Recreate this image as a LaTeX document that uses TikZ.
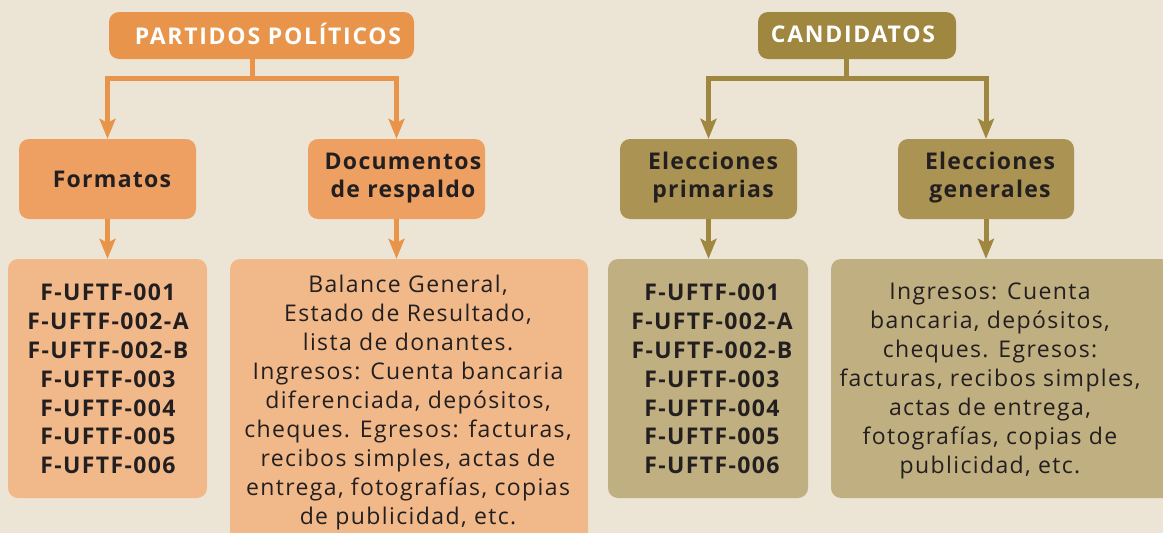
\documentclass[tikz,border=0pt]{standalone}
\usepackage{fontspec}
\setmainfont{Open Sans}
\usetikzlibrary{arrows.meta}
\definecolor{bg}{HTML}{ECE5D6}
\definecolor{orA}{HTML}{E8944A}
\definecolor{orB}{HTML}{EDA062}
\definecolor{orC}{HTML}{F1B98A}
\definecolor{olA}{HTML}{A0873F}
\definecolor{olB}{HTML}{AA9353}
\definecolor{olC}{HTML}{C0AF80}
\definecolor{ink}{HTML}{231F20}
\tikzset{
  box/.style={rounded corners=10pt, inner sep=0pt, draw=none},
  orline/.style={draw=orA, line width=5pt, line join=miter, -{Stealth[length=20pt,width=16pt,inset=4pt]}},
  olline/.style={draw=olA, line width=5pt, line join=miter, -{Stealth[length=20pt,width=16pt,inset=4pt]}},
  ttl/.style={text=white, font=\fontsize{23}{24}\bfseries\addfontfeatures{LetterSpace=7.5}\selectfont, inner sep=0pt},
  hd/.style={text=ink, font=\fontsize{23}{28}\bfseries\addfontfeatures{LetterSpace=5.5}\selectfont, align=center, inner sep=0pt},
  lst/.style={text=ink, font=\fontsize{23}{28.8}\bfseries\addfontfeatures{LetterSpace=6}\selectfont, align=center, inner sep=0pt},
  bd/.style={text=ink, font=\fontsize{23}{29}\addfontfeatures{LetterSpace=6}\selectfont, align=center, inner sep=0pt}
}
\begin{document}
\begin{tikzpicture}[x=1pt,y=-1pt]
\fill[bg] (0,0) rectangle (1163,533);
\useasboundingbox (0,0) rectangle (1163,533);
\clip (0,0) rectangle (1163,533);
% boxes
\node[box, fill=orA, minimum width=305pt, minimum height=47pt] (pp) at (261.5,35.5) {};
\node[box, fill=olA, minimum width=198pt, minimum height=47pt] (cand) at (857,35.5) {};
\node[box, fill=orB, minimum width=177pt, minimum height=80pt] (fmt) at (107.5,179) {};
\node[box, fill=orB, minimum width=177pt, minimum height=80pt] (doc) at (396.5,179) {};
\node[box, fill=olB, minimum width=177pt, minimum height=80pt] (ep) at (708.5,179) {};
\node[box, fill=olB, minimum width=176pt, minimum height=80pt] (eg) at (986,179) {};
\node[box, fill=orC, minimum width=199pt, minimum height=239pt] (l1) at (107.5,378.5) {};
\node[box, fill=orC, minimum width=358pt, minimum height=286pt] (l2) at (409,402) {};
\node[box, fill=olC, minimum width=200pt, minimum height=239pt] (l3) at (708,378.5) {};
\node[box, fill=olC, minimum width=344pt, minimum height=239pt] (l4) at (1003,378.5) {};
% connectors
\draw[orline] ([xshift=-9pt]pp.south) -- ++(0,19) -| (fmt.north);
\draw[orline] ([xshift=-9pt]pp.south) -- ++(0,19) -| (doc.north);
\draw[olline] ([xshift=-11pt]cand.south) -- ++(0,19) -| (ep.north);
\draw[olline] ([xshift=-11pt]cand.south) -- ++(0,19) -| (eg.north);
\draw[orline] (fmt.south) -- (l1.north);
\draw[orline] (doc.south) -- (doc.south |- l2.north);
\draw[olline] (ep.south) -- (ep.south |- l3.north);
\draw[olline] (eg.south) -- (eg.south |- l4.north);
% texts
\node[ttl] (tpp) at (268,34) {PARTIDOS POLÍTICOS};
\node[ttl] (tcand) at (853,34) {CANDIDATOS};
\node[hd] (tfmt) at (112,179) {Formatos};
\node[hd] (tdoc) at (403,178) {Documentos\\de respaldo};
\node[hd] (tep) at (713,178) {Elecciones\\primarias};
\node[hd] (teg) at (990,178) {Elecciones\\generales};
\node[lst] (tl1) at (108,379) {F-UFTF-001\\F-UFTF-002-A\\F-UFTF-002-B\\F-UFTF-003\\F-UFTF-004\\F-UFTF-005\\F-UFTF-006};
\node[lst] (tl3) at (712,379) {F-UFTF-001\\F-UFTF-002-A\\F-UFTF-002-B\\F-UFTF-003\\F-UFTF-004\\F-UFTF-005\\F-UFTF-006};
\node[bd] (tl2) at (408,403) {Balance General,\\Estado de Resultado,\\lista de donantes.\\Ingresos: Cuenta bancaria\\diferenciada, depósitos,\\cheques. Egresos: facturas,\\recibos simples, actas de\\entrega, fotografías, copias\\de publicidad, etc.};
\node[bd] (tl4) at (990,381) {Ingresos: Cuenta\\bancaria, depósitos,\\cheques. Egresos:\\facturas, recibos simples,\\actas de entrega,\\fotografías, copias de\\publicidad, etc.};
\end{tikzpicture}
\end{document}
